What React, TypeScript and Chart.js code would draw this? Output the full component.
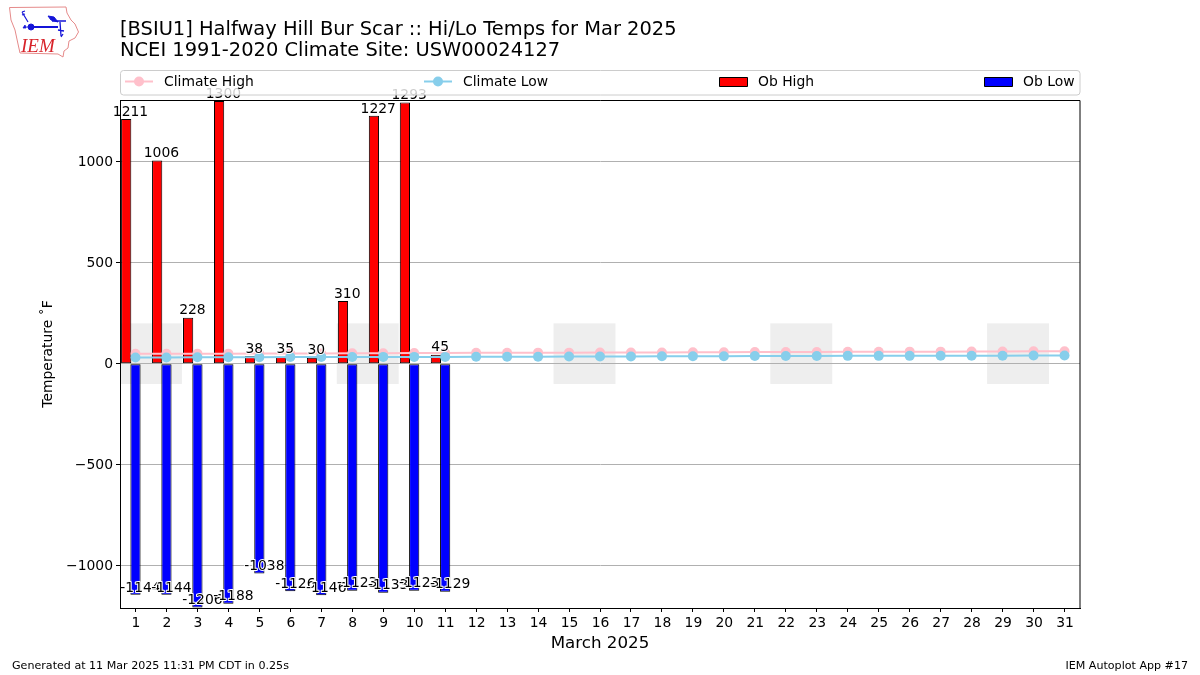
import React, { useEffect, useRef } from "react";
import { Chart, registerables } from "chart.js";

Chart.register(...registerables);

const days = Array.from({ length: 31 }, (_, i) => String(i + 1));
const climateHigh = [49, 49, 50, 50, 51, 51, 51, 52, 52, 53, 53, 54, 54, 55, 55, 56, 56, 56, 57, 57, 58, 58, 58, 59, 59, 60, 60, 61, 61, 62, 62];
const climateLow = [31, 31, 32, 32, 32, 33, 33, 33, 34, 34, 34, 35, 35, 35, 36, 36, 36, 37, 37, 37, 38, 38, 38, 39, 39, 39, 40, 40, 40, 41, 41];
const obHigh = [1211, 1006, 228, 1300, 38, 35, 30, 310, 1227, 1293, 45];
const obLow = [-1144, -1144, -1206, -1188, -1038, -1126, -1146, -1123, -1133, -1123, -1129];
const yTicks = [-1000, -500, 0, 500, 1000];
const weekendStarts = [1, 8, 15, 22, 29];
const weekendYRange = [-100, 200];
const titleLines = ["[BSIU1] Halfway Hill Bur Scar :: Hi/Lo Temps for Mar 2025", "NCEI 1991-2020 Climate Site: USW00024127"];
const footerLeft = "Generated at 11 Mar 2025 11:31 PM CDT in 0.25s";
const footerRight = "IEM Autoplot App #17";
const FONT = '"DejaVu Sans"';

const extras = {
  id: "extras",
  beforeDraw(chart: any) {
    const { ctx, scales } = chart;
    const step = scales.x.getPixelForValue(1) - scales.x.getPixelForValue(0);
    ctx.save();
    ctx.fillStyle = "#eeeeee";
    const top = scales.y.getPixelForValue(weekendYRange[1]);
    const bot = scales.y.getPixelForValue(weekendYRange[0]);
    for (const d of weekendStarts) {
      const left = scales.x.getPixelForValue(d - 1) - step / 2;
      ctx.fillRect(left, top, step * 2, bot - top);
    }
    ctx.restore();
  },
  afterDatasetsDraw(chart: any) {
    const { ctx, chartArea, scales } = chart;
    ctx.save();
    ctx.font = `13.9px ${FONT}`;
    ctx.textAlign = "center";
    ctx.textBaseline = "bottom";
    ctx.lineJoin = "round";
    const label = (txt: string, x: number, y: number) => {
      ctx.strokeStyle = "white";
      ctx.lineWidth = 2;
      ctx.strokeText(txt, x, y);
      ctx.fillStyle = "black";
      ctx.fillText(txt, x, y);
    };
    obHigh.forEach((v, i) => {
      const x = scales.x.getPixelForValue(i);
      label(String(v), x - 5, scales.y.getPixelForValue(v));
      label(String(obLow[i]), x + 5, scales.y.getPixelForValue(obLow[i]));
    });
    ctx.strokeStyle = "black";
    ctx.lineWidth = 1;
    ctx.strokeRect(chartArea.left + 0.5, chartArea.top + 0.5, chartArea.right - chartArea.left - 0.5, chartArea.bottom - chartArea.top);
    const lx = chartArea.left;
    const lw = chartArea.right - chartArea.left;
    ctx.beginPath();
    ctx.roundRect(lx + 0.5, 70.5, lw - 0.5, 24.5, 3);
    ctx.fillStyle = "rgba(255,255,255,0.8)";
    ctx.fill();
    ctx.strokeStyle = "#cccccc";
    ctx.stroke();
    const handles = [125, 424, 719, 984];
    ctx.textAlign = "left";
    ctx.textBaseline = "middle";
    ctx.font = `13.9px ${FONT}`;
    chart.data.datasets.slice(0, 4).forEach((ds: any, i: number) => {
      const hx = handles[i];
      const cy = 81.5;
      if (ds.type === "line") {
        ctx.strokeStyle = ds.borderColor;
        ctx.lineWidth = 2;
        ctx.beginPath();
        ctx.moveTo(hx, cy);
        ctx.lineTo(hx + 28, cy);
        ctx.stroke();
        ctx.fillStyle = ds.borderColor;
        ctx.beginPath();
        ctx.arc(hx + 14, cy, 5, 0, Math.PI * 2);
        ctx.fill();
      } else {
        ctx.fillStyle = ds.backgroundColor;
        ctx.fillRect(hx + 0.5, 77.5, 28, 9);
        ctx.strokeStyle = "black";
        ctx.lineWidth = 1;
        ctx.strokeRect(hx + 0.5, 77.5, 28, 9);
      }
      ctx.fillStyle = "black";
      ctx.fillText(ds.label, hx + 39, cy + 0.5);
    });
    ctx.font = `11.1px ${FONT}`;
    ctx.textBaseline = "middle";
    ctx.textAlign = "left";
    ctx.fillText(footerLeft, 12, 666);
    ctx.textAlign = "right";
    ctx.fillText(footerRight, 1188, 666);
    ctx.restore();
  },
};

function Logo() {
  return (
    <svg width={90} height={62} style={{ position: "absolute", left: 0, top: 0 }} viewBox="0 0 90 62">
      <path
        d="M9.5 7.5 L66 7 L67 13 L71 20 L75 24 L78.5 32 L75 38 L69 41 L68 48 L64 51 L63 57 L58 54 L20 53 L18 44 L15 30 L11 20 Z"
        fill="none"
        stroke="#e58a8a"
        strokeWidth={1}
      />
      <g stroke="#1414d8" fill="#1414d8">
        <path d="M30 27 L58 27" strokeWidth={2} fill="none" />
        <circle cx={31} cy={27} r={3} />
        <path d="M22 12 L28 22 M22 12 L25 11 M22 15 L25 14" strokeWidth={1.2} fill="none" />
        <path d="M48 16 L54 17 L58 22 L51 20 Z" strokeWidth={1} />
        <path d="M52 21 L66 21 M60 22 L61 36 M58 30 L64 31 M61 37 L63 34" strokeWidth={1.3} fill="none" />
        <path d="M23 28 L25 25 L26 28 Z M26 27 L28 27" strokeWidth={0.8} />
      </g>
      <text x={21} y={52} fontFamily='"Liberation Serif"' fontStyle="italic" fontSize={19} fill="#d8232a">
        IEM
      </text>
    </svg>
  );
}

export default function App() {
  const ref = useRef<HTMLCanvasElement>(null);
  useEffect(() => {
    document.body.style.margin = "0";
    const chart = new Chart(ref.current!, {
      type: "bar",
      data: {
        labels: days,
        datasets: [
          { type: "line", label: "Climate High", data: climateHigh, borderColor: "#ffc0cb", backgroundColor: "#ffc0cb", borderWidth: 2, pointRadius: 5, pointBorderWidth: 0, order: 1 },
          { type: "line", label: "Climate Low", data: climateLow, borderColor: "#87ceeb", backgroundColor: "#87ceeb", borderWidth: 2, pointRadius: 5, pointBorderWidth: 0, order: 0 },
          { type: "bar", label: "Ob High", data: obHigh, backgroundColor: "#ff0000", borderColor: "#000000", borderWidth: 1, borderSkipped: false, categoryPercentage: 0.9, barPercentage: 1.1, order: 2 },
          { type: "bar", label: "Ob Low", data: obLow, backgroundColor: "#0000ff", borderColor: "#000000", borderWidth: 1, borderSkipped: false, categoryPercentage: 0.9, barPercentage: 1.1, order: 2 },
          { type: "bar", label: "", data: [], categoryPercentage: 0.9, barPercentage: 1.1, order: 2 },
        ],
      } as any,
      options: {
        responsive: false,
        animation: false,
        layout: { padding: { left: 0, right: 120, top: 0, bottom: 0 } },
        plugins: {
          legend: { display: false },
          tooltip: { enabled: false },
          title: {
            display: true,
            text: titleLines,
            align: "start",
            fullSize: false,
            color: "black",
            font: { family: FONT, size: 19.45, weight: "normal", lineHeight: 1.09 },
            padding: { top: 19, bottom: 38.6 },
          },
        },
        scales: {
          x: {
            type: "category",
            offset: true,
            grid: { offset: false, drawOnChartArea: false, tickColor: "black", tickLength: 4 },
            border: { color: "black" },
            ticks: { autoSkip: false, maxRotation: 0, color: "black", font: { family: FONT, size: 13.9 }, padding: 3, labelOffset: 0.5 },
            title: { display: true, text: "March 2025", color: "black", font: { family: FONT, size: 16.7 }, padding: { top: 0, bottom: 21 } },
            afterFit(s: any) { s.height = 67; },
          },
          y: {
            min: -1209,
            max: 1305.5,
            afterBuildTicks(s: any) { s.ticks = yTicks.map((value) => ({ value })); },
            grid: { color: "#b0b0b0", tickColor: "black", tickLength: 4 },
            border: { color: "black" },
            ticks: {
              color: "black",
              padding: 3,
              labelOffset: 1,
              font: { family: FONT, size: 13.9 },
              callback: (v: any) => String(v).replace("-", "\u2212"),
            },
            title: { display: true, text: "Temperature \u02DAF", color: "black", font: { family: FONT, size: 13.9 }, padding: { top: 40, bottom: 0 } },
            afterFit(s: any) { s.width = 120; },
          },
        },
      } as any,
      plugins: [extras],
    });
    return () => chart.destroy();
  }, []);
  return (
    <div style={{ position: "relative", width: 1200, height: 675 }}>
      <canvas ref={ref} width={1200} height={675} style={{ display: "block" }} />
      <Logo />
    </div>
  );
}
